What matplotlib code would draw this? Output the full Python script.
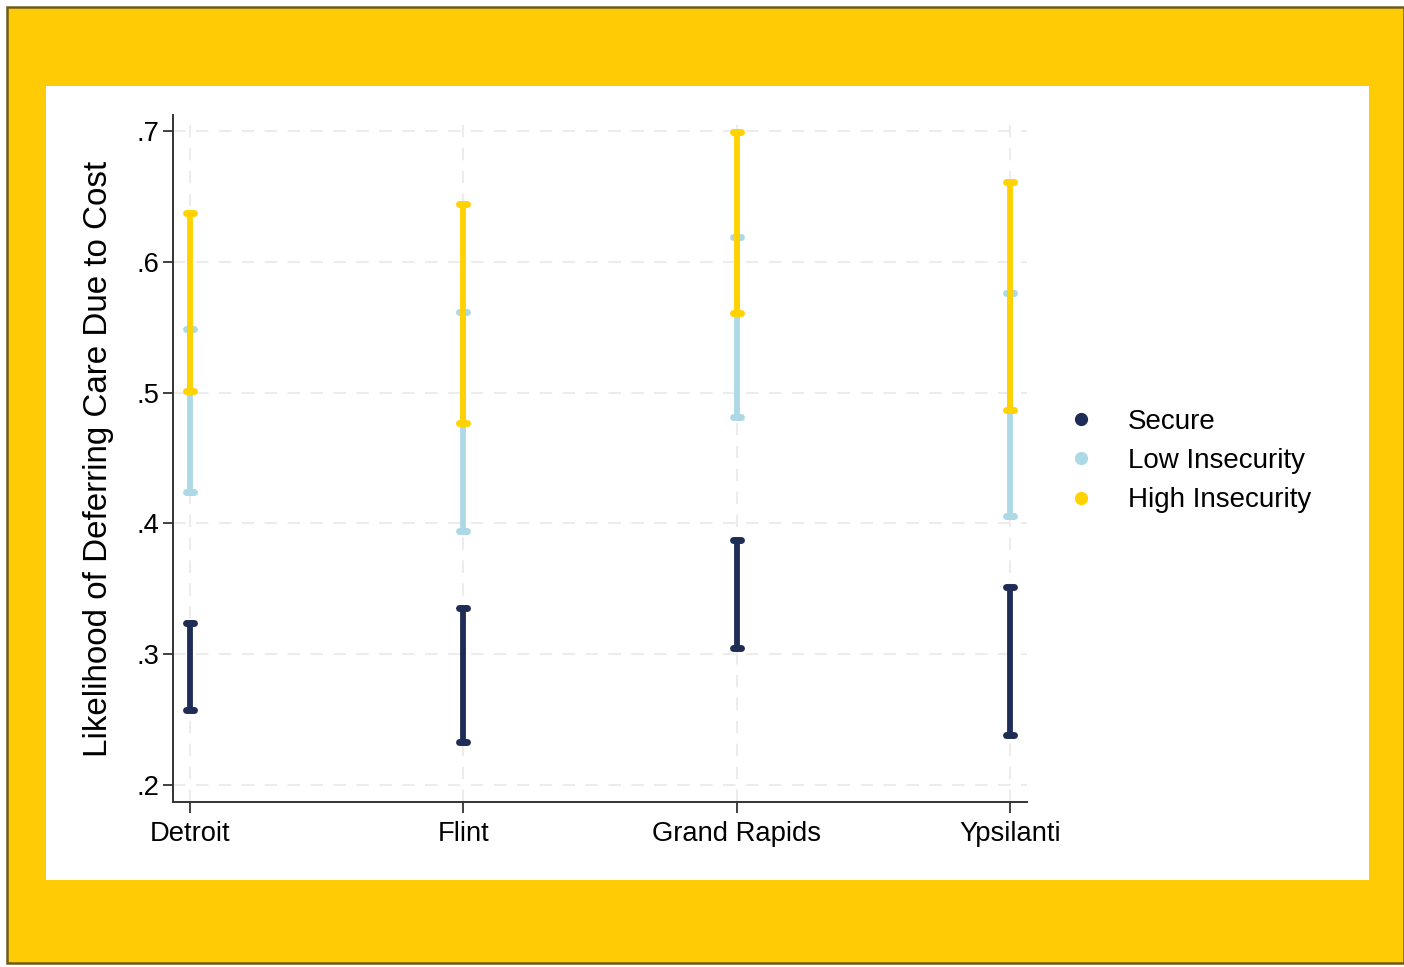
import numpy as np
import matplotlib.pyplot as plt
from matplotlib.lines import Line2D
from matplotlib.patches import Rectangle

plt.rcParams['font.family'] = ['Liberation Sans', 'DejaVu Sans']

# Data (confidence interval bounds)
cities = ['Detroit', 'Flint', 'Grand Rapids', 'Ypsilanti']
groups = ['Secure', 'Low Insecurity', 'High Insecurity']
colors = ['#1f2c55', '#add8e6', '#ffd200']

secure_lo = [0.257, 0.233, 0.305, 0.238]
secure_hi = [0.324, 0.335, 0.387, 0.351]
low_lo = [0.424, 0.394, 0.481, 0.406]
low_hi = [0.549, 0.562, 0.619, 0.576]
high_lo = [0.501, 0.477, 0.561, 0.487]
high_hi = [0.637, 0.644, 0.699, 0.661]

yticks = [0.2, 0.3, 0.4, 0.5, 0.6, 0.7]
ytick_labels = ['.2', '.3', '.4', '.5', '.6', '.7']

W, H = 1404, 967
fig = plt.figure(figsize=(W / 100, H / 100), dpi=100)
fig.patch.set_facecolor('white')

# yellow frame and white panel
fig.patches.append(Rectangle((7 / W, 1 - 963 / H), (W - 7) / W, (963 - 7) / H,
                             transform=fig.transFigure, facecolor='#ffcb05',
                             edgecolor='#6b5a1c', linewidth=1.8, zorder=0))
fig.patches.append(Rectangle((46 / W, 1 - 880 / H), (1369 - 46) / W, (880 - 86) / H,
                             transform=fig.transFigure, facecolor='white',
                             edgecolor='none', zorder=1))

ax = fig.add_axes([173 / W, 1 - 802 / H, (1027 - 173) / W, (802 - 115) / H])
ax.set_zorder(5)
ax.set_facecolor('none')

x = np.arange(1, len(cities) + 1)
cap = 0.015
series = [(secure_lo, secure_hi), (low_lo, low_hi), (high_lo, high_hi)]
for i, (lo, hi) in enumerate(series):
    ax.vlines(x, lo, hi, color=colors[i], linewidth=4.2, capstyle='butt', zorder=3 + i)
    ax.hlines(lo, x - cap, x + cap, color=colors[i], linewidth=5.0, capstyle='round', zorder=3 + i)
    ax.hlines(hi, x - cap, x + cap, color=colors[i], linewidth=5.0, capstyle='round', zorder=3 + i)

ax.set_xlim(1 - 17 / 273.3, 4 + 17 / 273.3)
ax.set_ylim(0.2 - 17 / 1308, 0.7 + 16 / 1308)
ax.set_xticks(x)
ax.set_xticklabels(cities)
ax.set_yticks(yticks)
ax.set_yticklabels(ytick_labels)

ax.grid(True, color='#ececec', linestyle=(0, (6, 5)), linewidth=1.5, zorder=1)
ax.set_axisbelow(True)

for s in ['top', 'right']:
    ax.spines[s].set_visible(False)
for s in ['left', 'bottom']:
    ax.spines[s].set_color('#333333')
    ax.spines[s].set_linewidth(1.4)

ax.tick_params(axis='both', colors='#333333', labelcolor='black', labelsize=19.7,
               width=1.3)
ax.tick_params(axis='x', length=8, pad=6)
ax.tick_params(axis='y', length=7, pad=3)

ax.set_ylabel('Likelihood of Deferring Care Due to Cost', fontsize=23.9, labelpad=16)

handles = [Line2D([], [], marker='o', linestyle='none', markersize=8.5,
                  markerfacecolor=c, markeredgecolor=c) for c in colors]
leg = fig.legend(handles, groups, loc='center left', bbox_to_anchor=(1067 / W, 1 - 461 / H),
                 frameon=False, fontsize=20, handlelength=1.0, handletextpad=1.18,
                 labelspacing=0.48, borderpad=0, borderaxespad=0)
leg.set_zorder(6)

fig.savefig('out.png', dpi=100)
